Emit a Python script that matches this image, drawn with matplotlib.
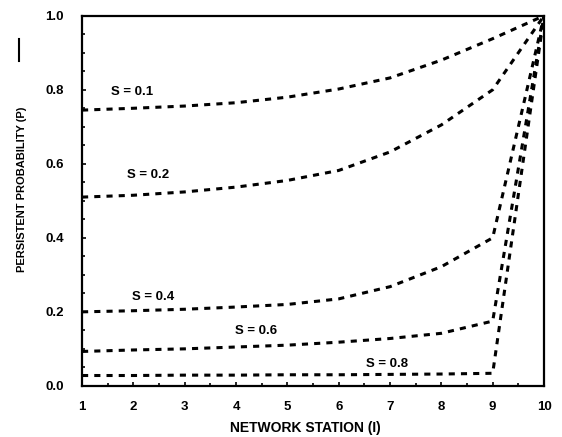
import matplotlib.pyplot as plt
from matplotlib.lines import Line2D
import numpy as np

plt.rcParams['font.family'] = ['Liberation Sans Narrow', 'Liberation Sans', 'DejaVu Sans']
plt.rcParams['font.weight'] = 'bold'

stations = [1, 2, 3, 4, 5, 6, 7, 8, 9, 10]
p_s01 = [0.745, 0.750, 0.756, 0.765, 0.780, 0.802, 0.832, 0.880, 0.938, 1.0]
p_s02 = [0.510, 0.515, 0.524, 0.537, 0.555, 0.582, 0.632, 0.705, 0.800, 1.0]
p_s04 = [0.200, 0.203, 0.207, 0.213, 0.220, 0.235, 0.268, 0.322, 0.400, 1.0]
p_s06 = [0.093, 0.097, 0.100, 0.105, 0.110, 0.118, 0.128, 0.142, 0.175, 1.0]
p_s08 = [0.028, 0.028, 0.029, 0.029, 0.030, 0.030, 0.031, 0.032, 0.034, 1.0]

series = [p_s01, p_s02, p_s04, p_s06, p_s08]
labels = ['S = 0.1', 'S = 0.2', 'S = 0.4', 'S = 0.6', 'S = 0.8']
label_pos = [(1.97, 0.795), (2.29, 0.57), (2.39, 0.24), (4.39, 0.149), (6.94, 0.06)]

fig = plt.figure(figsize=(5.62, 4.37), dpi=100)
ax = fig.add_axes([0.146, 0.117, 0.822, 0.847])

for vals, lab, (lx, ly) in zip(series, labels, label_pos):
    ax.plot(stations, vals, color='black', lw=2.2, linestyle=(0, (2.0, 2.0)))
    ax.text(lx, ly, lab, fontsize=9.5, fontweight='bold', ha='center', va='center')

ax.set_xlim(1, 10)
ax.set_ylim(0, 1.0)
ax.set_xticks(np.arange(1, 11))
ax.set_yticks(np.arange(0, 1.01, 0.2))
ax.set_yticklabels(['0.0', '0.2', '0.4', '0.6', '0.8', '1.0'])
ax.set_xticks(np.arange(1, 10.01, 0.5), minor=True)
ax.set_yticks(np.arange(0, 1.01, 0.05), minor=True)
ax.tick_params(which='both', direction='in', labelsize=9.5, width=1.2)
ax.tick_params(which='major', length=3)
ax.tick_params(which='minor', length=2)
ax.tick_params(axis='y', which='major', pad=13)
ax.tick_params(axis='x', which='major', pad=11)
for lbl in ax.get_xticklabels() + ax.get_yticklabels():
    lbl.set_fontweight('bold')

for sp in ax.spines.values():
    sp.set_linewidth(1.6)

ax.set_xlabel('NETWORK STATION (I)', fontsize=10, fontweight='bold')
ax.xaxis.set_label_coords(0.483, -0.095)
ax.set_ylabel('PERSISTENT PROBABILITY (P)', fontsize=8, fontweight='bold')
ax.yaxis.set_label_coords(-0.119, 0.53)

# small stray mark at top left of the scan
fig.add_artist(Line2D([0.033, 0.033], [0.86, 0.91], color='black', lw=1.5,
                      transform=fig.transFigure))

fig.savefig('out.png', dpi=100)
